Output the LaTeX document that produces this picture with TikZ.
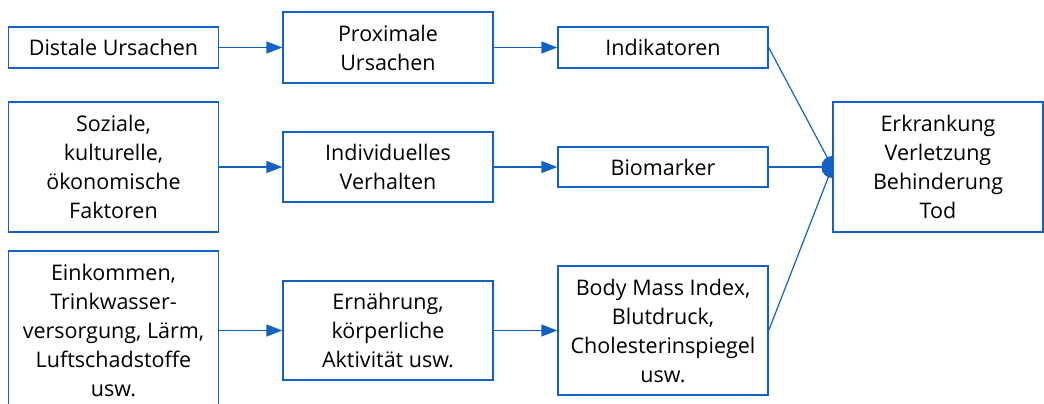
\documentclass[tikz,border=0pt]{standalone}
\usepackage{fontspec}
\setmainfont{Open Sans}
\usetikzlibrary{arrows.meta}
\definecolor{lineblue}{RGB}{18,98,196}
\begin{document}
\begin{tikzpicture}[x=1pt,y=-1pt,
  box/.style={draw=lineblue, line width=1.4pt, align=center, inner sep=0pt,
    minimum width=210pt, text=black,
    font=\fontsize{21.5}{29}\selectfont},
  flow/.style={draw=lineblue, line width=1.4pt,
    -{Triangle[length=16pt,width=12pt]}},
  link/.style={draw=lineblue, line width=1.2pt}]
\useasboundingbox (0,0) rectangle (1044,404);
\clip (0,0) rectangle (1044,404);

% left column: distal causes
\node[box, minimum height=41pt]  (d1) at (113.5,47.5) {Distale Ursachen};
\node[box, minimum height=130pt] (d2) at (113.5,167) {Soziale,\\kulturelle,\\ökonomische\\Faktoren};
\node[box, minimum height=159pt] (d3) at (113.5,330.5) {Einkommen,\\Trinkwasser-\\versorgung, Lärm,\\Luftschadstoffe\\usw.};

% second column: proximal causes
\node[box, minimum height=71pt] (p1) at (388,47.5) {Proximale\\Ursachen};
\node[box, minimum height=70pt] (p2) at (388,167) {Individuelles\\Verhalten};
\node[box, minimum height=99pt] (p3) at (388,330.5) {Ernährung,\\körperliche\\Aktivität usw.};

% third column: indicators
\node[box, minimum height=41pt]  (i1) at (663,47.5) {Indikatoren};
\node[box, minimum height=40pt]  (i2) at (663,167) {Biomarker};
\node[box, minimum height=129pt] (i3) at (663,330.5) {Body Mass Index,\\Blutdruck,\\Cholesterinspiegel\\usw.};

% outcome
\node[box, minimum height=130pt] (out) at (938,167) {Erkrankung\\Verletzung\\Behinderung\\Tod};

% arrows between columns
\foreach \r in {1,2,3} {
  \draw[flow] (d\r.east |- p\r.center) -- (p\r.west);
  \draw[flow] (p\r.east) -- (i\r.west |- p\r.center);
}

% converging links into the outcome
\draw[link] (i1.east) -- (out.west);
\draw[link] (i2.east) -- (out.west);
\draw[link] (i3.east) -- (out.west);
% half disc where the links meet
\fill[lineblue] ([yshift=11pt]out.west) arc (90:270:11pt) -- cycle;
\end{tikzpicture}
\end{document}
